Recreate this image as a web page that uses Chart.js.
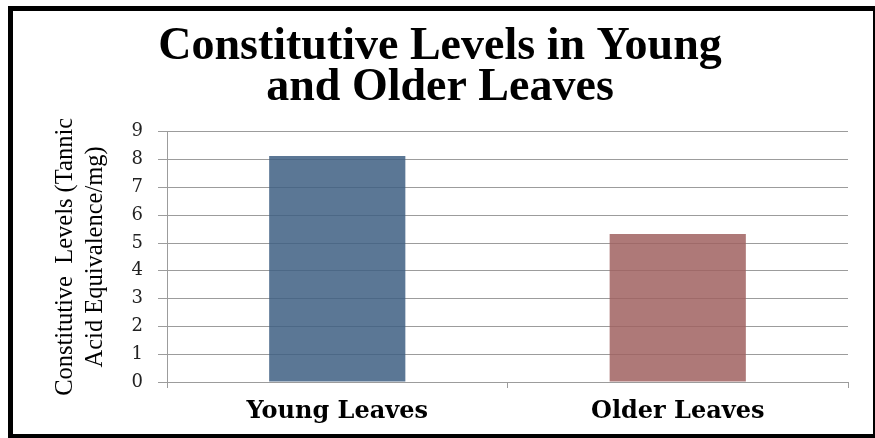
<!DOCTYPE html>
<html>
<head>
<meta charset="utf-8">
<script src="https://cdn.jsdelivr.net/npm/chart.js@4"></script>
<style>
  body { margin: 0; background: #fff; }
  #wrap { position: relative; width: 875px; height: 438px; overflow: hidden; }
  #frame { position: absolute; left: 8px; top: 6px; width: 860px; height: 423px; border: 5px solid #000; pointer-events: none; }
</style>
</head>
<body>
<div id="wrap">
  <canvas id="levelsChart" width="875" height="438"></canvas>
  <div id="frame"></div>
</div>
<script>
// data
const categories = ["Young Leaves", "Older Leaves"];
const levels = [8.13, 5.32];
const titleLines = ["Constitutive Levels in Young", "and Older Leaves"];
const yTitleLines = ["Constitutive  Levels (Tannic", "Acid Equivalence/mg)"];

const gridColor = "#9c9c9c";

const ctx = document.getElementById("levelsChart");

new Chart(ctx, {
  type: "bar",
  data: {
    labels: categories,
    datasets: [
      {
        label: "Constitutive level",
        data: levels,
        backgroundColor: ["rgba(62, 95, 130, 0.85)", "rgba(160, 98, 96, 0.85)"],
        borderWidth: 0,
        barPercentage: 0.4,
        categoryPercentage: 1,
      },
    ],
  },
  options: {
    responsive: false,
    animation: false,
    layout: { padding: { left: 32, right: 27, top: 0, bottom: 0 } },
    plugins: {
      legend: { display: false },
      tooltip: { enabled: false },
      title: {
        display: true,
        text: titleLines,
        color: "#000",
        font: { family: "Liberation Serif", size: 46, weight: "bold", lineHeight: 0.9 },
        padding: { top: 26, bottom: 23 },
      },
    },
    scales: {
      x: {
        offset: true,
        grid: { offset: true, drawOnChartArea: false, color: gridColor, tickLength: 6 },
        border: { color: gridColor },
        ticks: {
          color: "#000",
          font: { family: "DejaVu Serif", size: 24, weight: "bold" },
          padding: 9,
        },
        afterFit: (scale) => { scale.height = 56; },
      },
      y: {
        min: 0,
        max: 9,
        grid: { color: gridColor, tickLength: 9 },
        border: { color: gridColor },
        ticks: {
          stepSize: 1,
          color: "#222",
          font: { family: "DejaVu Serif", size: 18 },
          padding: 15,
        },
        title: {
          display: true,
          text: yTitleLines,
          color: "#000",
          font: { family: "Liberation Serif", size: 24.5, lineHeight: 1.25 },
          padding: { top: 18, bottom: 0 },
        },
        afterFit: (scale) => { scale.width = 135; },
      },
    },
  },
});
</script>
</body>
</html>
